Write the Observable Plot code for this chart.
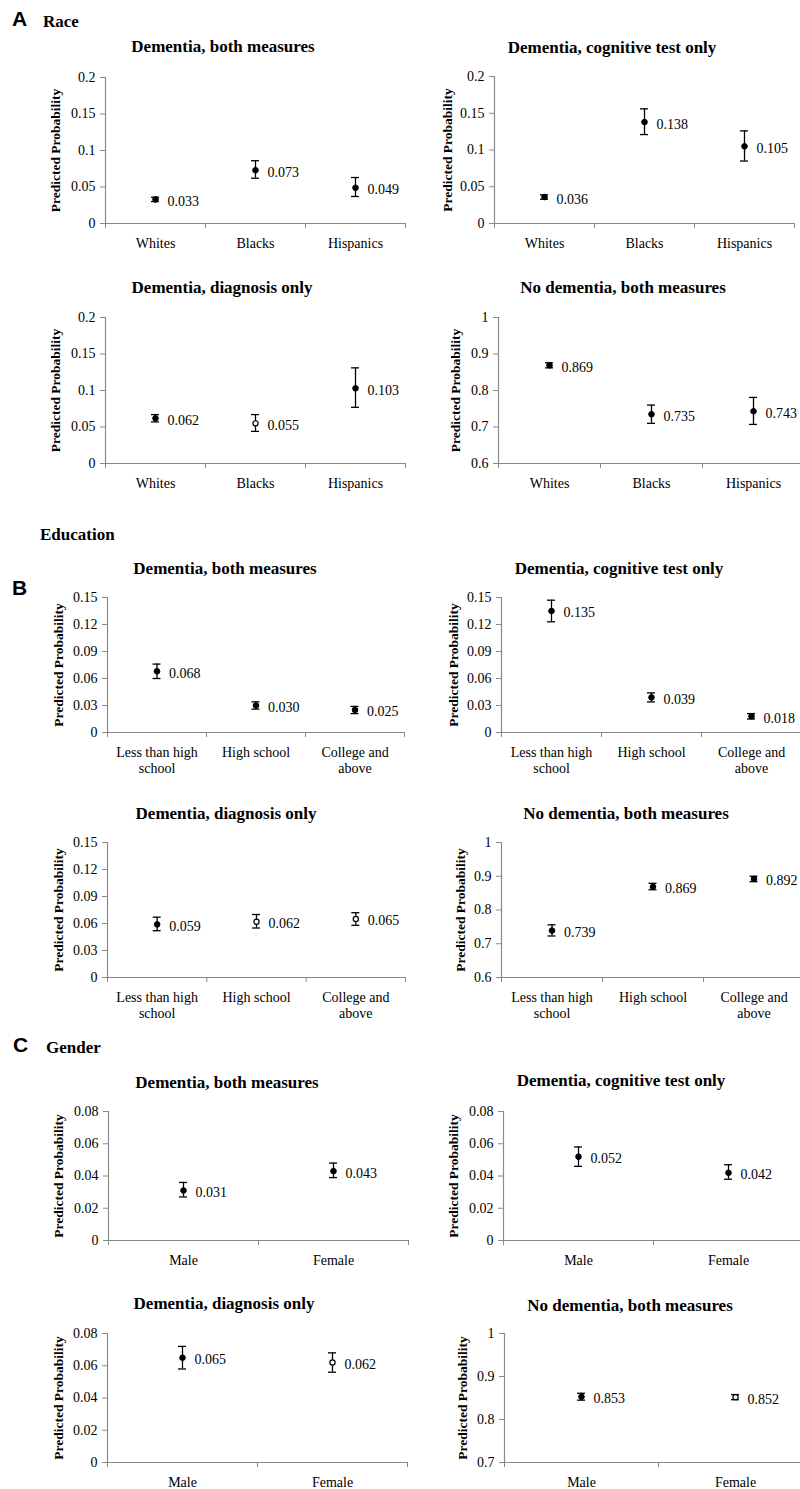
<!DOCTYPE html>
<html><head><meta charset="utf-8">
<script src="https://cdn.jsdelivr.net/npm/d3@7"></script>
<script src="https://cdn.jsdelivr.net/npm/@observablehq/plot@0.6"></script>
<style>
html,body{margin:0;padding:0;background:#fff;}
#root{position:relative;width:800px;height:1489px;overflow:hidden;background:#fff;font-family:"Liberation Serif","Times New Roman",serif;color:#000;}
.hdr{position:absolute;white-space:nowrap;line-height:1;transform:translateY(-50%);font-weight:bold;}
.letter{font-family:"Liberation Sans",Arial,sans-serif;font-size:21px;}
.sect{font-size:17px;}
.ttl{position:absolute;white-space:nowrap;line-height:1;transform:translate(-50%,-50%);font-weight:bold;font-size:17px;}
.panel{position:absolute;}
.panel svg{max-width:none;}
</style></head><body><div id="root"></div>
<script>
// ---------- data ----------
const outcomes = ["Dementia, both measures", "Dementia, cognitive test only", "Dementia, diagnosis only", "No dementia, both measures"];
const yLabel = "Predicted Probability";

const raceCategories = ["Whites", "Blacks", "Hispanics"];
const raceValues = [[0.033, 0.073, 0.049], [0.036, 0.138, 0.105], [0.062, 0.055, 0.103], [0.869, 0.735, 0.743]];
const raceLower  = [[0.030, 0.062, 0.037], [0.033, 0.121, 0.085], [0.057, 0.044, 0.077], [0.862, 0.710, 0.707]];
const raceUpper  = [[0.036, 0.086, 0.063], [0.039, 0.156, 0.126], [0.067, 0.067, 0.131], [0.876, 0.760, 0.781]];
const raceFilled = [[1, 1, 1], [1, 1, 1], [1, 0, 1], [1, 1, 1]];

const eduCategories = ["Less than high\nschool", "High school", "College and\nabove"];
const eduValues = [[0.068, 0.030, 0.025], [0.135, 0.039, 0.018], [0.059, 0.062, 0.065], [0.739, 0.869, 0.892]];
const eduLower  = [[0.060, 0.026, 0.021], [0.123, 0.034, 0.015], [0.052, 0.055, 0.058], [0.723, 0.860, 0.884]];
const eduUpper  = [[0.076, 0.034, 0.029], [0.147, 0.044, 0.021], [0.067, 0.070, 0.072], [0.756, 0.879, 0.900]];
const eduFilled = [[1, 1, 1], [1, 1, 1], [1, 0, 0], [1, 1, 1]];

const genderCategories = ["Male", "Female"];
const genderValues = [[0.031, 0.043], [0.052, 0.042], [0.065, 0.062], [0.853, 0.852]];
const genderLower  = [[0.027, 0.039], [0.046, 0.038], [0.058, 0.056], [0.845, 0.846]];
const genderUpper  = [[0.036, 0.048], [0.058, 0.047], [0.072, 0.068], [0.861, 0.858]];
const genderFilled = [[1, 1], [1, 1], [1, 0], [1, 0]];

const ticksRace = [0, 0.05, 0.1, 0.15, 0.2];
const tickLabelsRace = ["0", "0.05", "0.1", "0.15", "0.2"];
const ticksRaceNoDem = [0.6, 0.7, 0.8, 0.9, 1];
const tickLabelsRaceNoDem = ["0.6", "0.7", "0.8", "0.9", "1"];
const ticksEdu = [0, 0.03, 0.06, 0.09, 0.12, 0.15];
const tickLabelsEdu = ["0", "0.03", "0.06", "0.09", "0.12", "0.15"];
const ticksEduNoDem = [0.6, 0.7, 0.8, 0.9, 1];
const tickLabelsEduNoDem = ["0.6", "0.7", "0.8", "0.9", "1"];
const ticksGender = [0, 0.02, 0.04, 0.06, 0.08];
const tickLabelsGender = ["0", "0.02", "0.04", "0.06", "0.08"];
const ticksGenderNoDem = [0.7, 0.8, 0.9, 1];
const tickLabelsGenderNoDem = ["0.7", "0.8", "0.9", "1"];

const sections = [
  {letter: "A", name: "Race", cats: raceCategories, values: raceValues, lower: raceLower, upper: raceUpper, filled: raceFilled,
   ticks: [ticksRace, ticksRace, ticksRace, ticksRaceNoDem], tickLabels: [tickLabelsRace, tickLabelsRace, tickLabelsRace, tickLabelsRaceNoDem]},
  {letter: "B", name: "Education", cats: eduCategories, values: eduValues, lower: eduLower, upper: eduUpper, filled: eduFilled,
   ticks: [ticksEdu, ticksEdu, ticksEdu, ticksEduNoDem], tickLabels: [tickLabelsEdu, tickLabelsEdu, tickLabelsEdu, tickLabelsEduNoDem]},
  {letter: "C", name: "Gender", cats: genderCategories, values: genderValues, lower: genderLower, upper: genderUpper, filled: genderFilled,
   ticks: [ticksGender, ticksGender, ticksGender, ticksGenderNoDem], tickLabels: [tickLabelsGender, tickLabelsGender, tickLabelsGender, tickLabelsGenderNoDem]}
];

// ---------- layout (pixels) ----------
const headerLayout = [
  {letter: [12, 18], name: [43, 21]},
  {letter: [12, 587], name: [40, 534]},
  {letter: [13, 1044], name: [46, 1047]}
];
const panelLayout = [
  [
    {left: 0, axisX: 105, right: 405, top: 77, base: 223, labelX: 55, title: [223, 46]},
    {left: 400, axisX: 494, right: 794, top: 76, base: 223, labelX: 447, title: [612, 47]},
    {left: 0, axisX: 105, right: 405, top: 317, base: 463, labelX: 55, title: [222, 287]},
    {left: 400, axisX: 498, right: 804, top: 317, base: 463, labelX: 455, title: [623, 287]}
  ],
  [
    {left: 0, axisX: 107, right: 404, top: 597, base: 732, labelX: 58, title: [225, 568]},
    {left: 400, axisX: 501, right: 801, top: 597, base: 732, labelX: 453, title: [619, 568]},
    {left: 0, axisX: 107, right: 405, top: 842, base: 977, labelX: 58, title: [226, 813]},
    {left: 400, axisX: 501, right: 804, top: 842, base: 977, labelX: 460, title: [626, 813]}
  ],
  [
    {left: 0, axisX: 108, right: 408, top: 1111, base: 1240, labelX: 58, title: [227, 1082]},
    {left: 400, axisX: 503, right: 803, top: 1111, base: 1240, labelX: 453, title: [621, 1080]},
    {left: 0, axisX: 107, right: 407, top: 1333, base: 1462, labelX: 58, title: [224, 1303]},
    {left: 400, axisX: 504, right: 812, top: 1333, base: 1462, labelX: 462, title: [630, 1305]}
  ]
];

// ---------- render ----------
const root = document.getElementById("root");
const axisColor = "#8a8a8a";
const fmt = d3.format(".3f");

function addDiv(cls, text, left, top) {
  const d = document.createElement("div");
  d.className = cls;
  d.textContent = text;
  d.style.left = left + "px";
  d.style.top = top + "px";
  root.appendChild(d);
  return d;
}

sections.forEach((s, si) => {
  const H = headerLayout[si];
  addDiv("hdr letter", s.letter, H.letter[0], H.letter[1]);
  addDiv("hdr sect", s.name, H.name[0], H.name[1]);

  outcomes.forEach((title, oi) => {
    const L = panelLayout[si][oi];
    addDiv("ttl", title, L.title[0], L.title[1]);
    const n = s.cats.length;
    const rows = s.cats.map((c, i) => ({
      cat: c, pos: i + 0.5,
      value: s.values[oi][i], lo: s.lower[oi][i], hi: s.upper[oi][i],
      filled: s.filled[oi][i] === 1
    }));
    const ticks = s.ticks[oi], labels = s.tickLabels[oi];
    const ymin = ticks[0], ymax = ticks[ticks.length - 1];
    const mt = 10, mb = 48;
    const width = L.right - L.left + 2;
    const height = (L.base - L.top) + mt + mb;
    const boundaries = d3.range(n + 1);

    const plot = Plot.plot({
      width, height,
      marginLeft: L.axisX - L.left, marginRight: 2, marginTop: mt, marginBottom: mb,
      x: {type: "linear", domain: [0, n], axis: null},
      y: {type: "linear", domain: [ymin, ymax], axis: null},
      style: {fontFamily: "'Liberation Serif','Times New Roman',serif", fontSize: "14px", background: "transparent", overflow: "visible", maxWidth: "none"},
      marks: [
        Plot.axisY({ticks, tickFormat: d => labels[ticks.indexOf(d)], tickSize: 5, tickPadding: 5, stroke: axisColor, fill: "black", label: null, fontSize: 14}),
        Plot.axisX({ticks: boundaries, tickSize: 5, stroke: axisColor, fill: "none", label: null}),
        Plot.ruleX([0], {stroke: axisColor, strokeWidth: 1.2}),
        Plot.ruleY([ymin], {stroke: axisColor, strokeWidth: 1.2}),
        Plot.ruleX(rows, {x: "pos", y1: "lo", y2: "hi", stroke: "black", strokeWidth: 1.3}),
        Plot.ruleY(rows, {y: "lo", x1: "pos", x2: "pos", insetLeft: -4, insetRight: -4, stroke: "black", strokeWidth: 1.3}),
        Plot.ruleY(rows, {y: "hi", x1: "pos", x2: "pos", insetLeft: -4, insetRight: -4, stroke: "black", strokeWidth: 1.3}),
        Plot.dot(rows.filter(d => d.filled), {x: "pos", y: "value", r: 2.8, fill: "black", stroke: "black", strokeWidth: 1}),
        Plot.dot(rows.filter(d => !d.filled), {x: "pos", y: "value", r: 2.6, fill: "white", stroke: "black", strokeWidth: 1.2}),
        Plot.text(rows, {x: "pos", y: "value", text: d => fmt(d.value), dx: 12, dy: 2, textAnchor: "start", fontSize: 14, fill: "black"}),
        Plot.text(rows, {x: "pos", y: () => ymin, text: "cat", lineAnchor: "top", dy: 13, lineHeight: 1.15, fontSize: 14, fill: "black"}),
        Plot.text([yLabel], {frameAnchor: "left", text: d => d, rotate: -90, textAnchor: "middle", lineAnchor: "middle", dx: -(L.axisX - L.labelX), fontWeight: "bold", fontSize: 13.5, fill: "black"})
      ]
    });
    const wrap = document.createElement("div");
    wrap.className = "panel";
    wrap.style.left = L.left + "px";
    wrap.style.top = (L.top - mt) + "px";
    wrap.appendChild(plot);
    root.appendChild(wrap);
  });
});
</script></body></html>
